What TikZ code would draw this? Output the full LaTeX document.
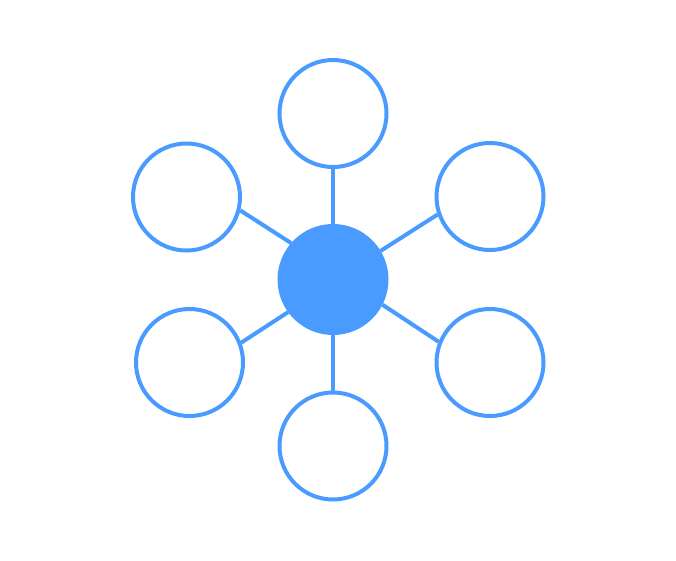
\documentclass[tikz,border=0pt]{standalone}
\usepackage{xcolor}
\usepackage{tikz}
\definecolor{blue}{HTML}{4A9BFF}
\tikzset{
  ring/.style={circle, draw=blue, line width=4pt, minimum size=107pt, inner sep=0pt},
  hub/.style={circle, fill=blue, minimum size=111pt, inner sep=0pt, outer sep=0pt},
  link/.style={draw=blue, line width=4pt}
}
\begin{document}
\begin{tikzpicture}[x=1pt,y=-1pt]
  \useasboundingbox (0,0) rectangle (676,560);

  \node[hub] (hub) at (333,279.5) {};
  \node[ring] (top) at (333,113.5) {};
  \node[ring] (ul) at (186.5,197) {};
  \node[ring] (ur) at (490,196.5) {};
  \node[ring] (ll) at (189.5,362.5) {};
  \node[ring] (lr) at (490,362.5) {};
  \node[ring] (bot) at (333,446) {};

  \draw[link] (hub.north) -- (top.south);
  \draw[link] (hub.139) -- (ul.-14);
  \draw[link] (hub.31) -- (ur.-161);
  \draw[link] (hub.216) -- (ll.21);
  \draw[link] (hub.-27) -- (lr.158);
  \draw[link] (hub.south) -- (bot.north);
\end{tikzpicture}
\end{document}
